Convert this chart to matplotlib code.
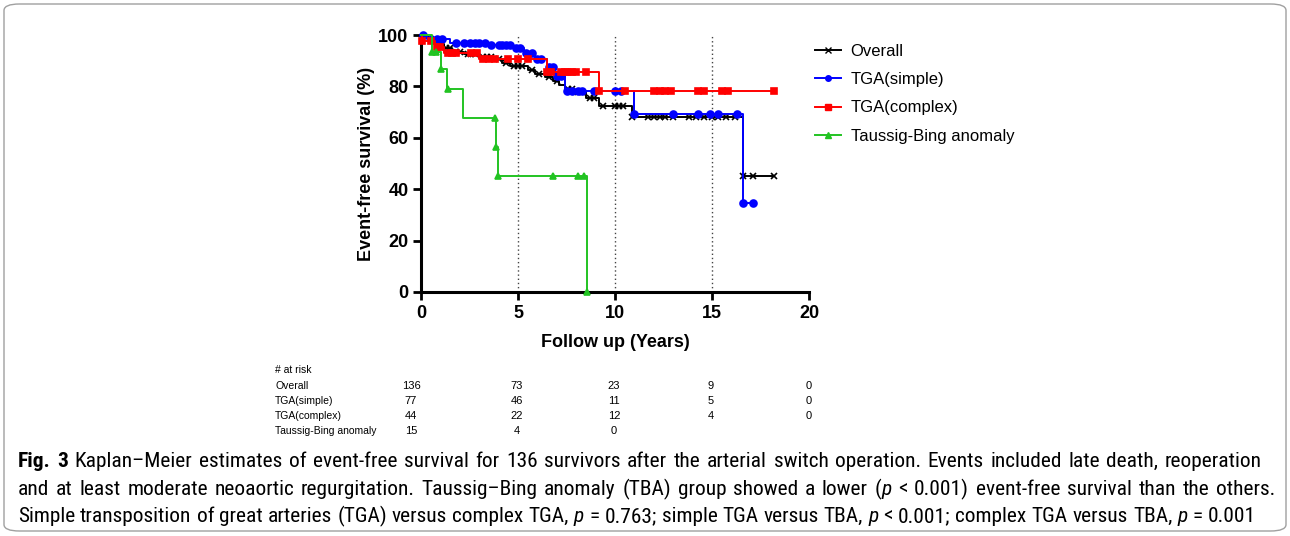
import numpy as np
import matplotlib
matplotlib.use("Agg")
import matplotlib.pyplot as plt
from matplotlib.lines import Line2D
from matplotlib.patches import FancyBboxPatch
from matplotlib import font_manager
from matplotlib.font_manager import FontProperties
import os

# ---------------- data ----------------
series_names = ["Overall", "TGA(simple)", "TGA(complex)", "Taussig-Bing anomaly"]

overall_t = [0, 0.3, 0.6, 0.9, 1.2, 1.6, 2.2, 3.0, 3.8, 4.2, 4.6, 5.5, 5.9, 6.4, 6.8,
             7.1, 7.4, 7.9, 8.5, 9.2, 10.9, 16.6, 18.2]
overall_s = [100, 99.3, 98, 96.5, 95, 93.5, 92.5, 91.5, 90.5, 89, 88, 86.5, 85, 83.5, 82,
             80.5, 79, 78, 75.5, 72.3, 68.2, 45.3, 45.3]
overall_cens = [0.7, 1.0, 1.3, 1.5, 1.8, 2.0, 2.4, 2.6, 2.8, 3.2, 3.4, 3.6, 4.0, 4.4, 4.8,
                5.0, 5.2, 5.7, 6.1, 6.6, 7.0, 7.6, 7.8, 8.1, 8.3, 8.7, 8.9, 9.4, 10.0, 10.2,
                10.4, 10.9, 11.7, 12.0, 12.3, 12.6, 13.0, 13.8, 14.2, 14.6, 15.0, 15.3, 15.7,
                16.2, 16.6, 17.1, 18.2]

simple_t = [0, 0.3, 1.5, 3.6, 4.7, 5.3, 5.9, 6.5, 6.9, 7.4, 11.0, 16.6, 17.1]
simple_s = [100, 98.5, 97, 96, 95, 93, 90.5, 87.5, 84, 78.3, 69.3, 34.7, 34.7]
simple_cens = [0.1, 0.5, 0.8, 1.1, 1.8, 2.2, 2.5, 2.8, 3.0, 3.3, 3.6, 4.0, 4.2, 4.4, 4.6,
               4.9, 5.1, 5.4, 5.7, 6.0, 6.2, 6.6, 6.8, 7.0, 7.2, 7.5, 7.8, 8.1, 8.3, 8.9,
               10.0, 10.3, 11.0, 13.0, 14.3, 14.9, 15.3, 16.3, 16.6, 17.1]

complex_t = [0, 0.05, 0.7, 1.2, 3.0, 6.5, 9.2, 18.2]
complex_s = [100, 97.7, 95.4, 93.1, 90.6, 85.5, 78.2, 78.2]
complex_cens = [0.05, 0.5, 0.8, 1.0, 1.4, 1.6, 1.8, 2.6, 2.9, 3.2, 3.5, 3.8, 4.5, 5.0, 5.5,
                6.5, 6.7, 7.2, 7.4, 7.6, 7.8, 8.0, 8.5, 9.2, 10.5, 12.0, 12.3, 12.6, 12.9,
                14.3, 14.6, 15.5, 15.8, 18.2]

tba_t = [0, 0.55, 1.05, 1.35, 2.15, 3.85, 3.95, 8.55]
tba_s = [100, 93.3, 86.7, 79, 67.8, 56.4, 45.1, 0]
tba_cens = [0.55, 0.75, 1.05, 1.4, 3.8, 3.87, 3.97, 6.8, 8.1, 8.4, 8.55]

x_ticks = [0, 5, 10, 15, 20]
y_ticks = [0, 20, 40, 60, 80, 100]
ref_lines = [5, 10, 15]

risk_header = "# at risk"
risk_rows = ["Overall", "TGA(simple)", "TGA(complex)", "Taussig-Bing anomaly"]
risk_overall = ["136", "73", "23", "9", "0"]
risk_simple = ["77", "46", "11", "5", "0"]
risk_complex = ["44", "22", "12", "4", "0"]
risk_tba = ["15", "4", "0"]

caption_lines = [
    [("Fig. 3", "bold"), (" Kaplan–Meier estimates of event-free survival for 136 survivors after the arterial switch operation. Events included late death, reoperation", "normal")],
    [("and at least moderate neoaortic regurgitation. Taussig–Bing anomaly (TBA) group showed a lower (", "normal"), ("p", "italic"), (" < 0.001) event-free survival than the others.", "normal")],
    [("Simple transposition of great arteries (TGA) versus complex TGA, ", "normal"), ("p", "italic"), (" = 0.763; simple TGA versus TBA, ", "normal"), ("p", "italic"), (" < 0.001; complex TGA versus TBA, ", "normal"), ("p", "italic"), (" = 0.001", "normal")],
]
caption_right = [1262, 1275, 1256]

# ---------------- figure ----------------
W, H = 1290, 536
fig = plt.figure(figsize=(W / 100, H / 100), dpi=100)


def fx(px):
    return px / W


def fy(py):
    return 1 - py / H


avail = {f.name for f in font_manager.fontManager.ttflist}
main_font = "Liberation Sans" if "Liberation Sans" in avail else "DejaVu Sans"

# look for a condensed font for the caption
fnames = [f.fname for f in font_manager.fontManager.ttflist]


def find_file(patterns):
    for p in patterns:
        for fn in fnames:
            if os.path.basename(fn).lower() == p.lower():
                return fn
    return None


cap_sets = [
    ("LiberationSansNarrow-Regular.ttf", "LiberationSansNarrow-Bold.ttf", "LiberationSansNarrow-Italic.ttf"),
    ("RobotoCondensed-Regular.ttf", "RobotoCondensed-Bold.ttf", "RobotoCondensed-Italic.ttf"),
    ("OpenSans_Condensed-Regular.ttf", "OpenSans_Condensed-Bold.ttf", "OpenSans_Condensed-Italic.ttf"),
    ("DejaVuSansCondensed.ttf", "DejaVuSansCondensed-Bold.ttf", "DejaVuSansCondensed-Oblique.ttf"),
]
cap_props = None
for reg, bold, ital in cap_sets:
    r = find_file([reg])
    if r:
        b = find_file([bold]) or r
        i = find_file([ital]) or r
        cap_props = {"normal": r, "bold": b, "italic": i}
        break


def cap_fp(style, size):
    if cap_props is not None:
        return FontProperties(fname=cap_props[style], size=size)
    kw = dict(family=main_font, size=size)
    if style == "bold":
        kw["weight"] = "bold"
    if style == "italic":
        kw["style"] = "italic"
    return FontProperties(**kw)


# border
border = FancyBboxPatch((fx(4), fy(531)), fx(1282), (527) / H,
                        boxstyle="round,pad=0,rounding_size=0.012",
                        transform=fig.transFigure, fill=False, edgecolor="#a0a0a0", lw=1.0)
fig.patches.append(border)

ax = fig.add_axes([fx(421), fy(292), fx(809) - fx(421), fy(35) - fy(292)])
ax.set_xlim(0, 20)
ax.set_ylim(0, 100)

for x in ref_lines:
    ax.plot([x, x], [0, 100], color="#444444", lw=1.0, ls=(0, (1, 2)), zorder=1)


def surv_at(t, s, q):
    t = np.asarray(t)
    s = np.asarray(s)
    idx = np.searchsorted(t, np.asarray(q), side="right") - 1
    return s[idx]


colors = ["black", "#0000ff", "#ff0000", "#22c322"]
markers = ["x", "o", "s", "^"]
msizes = [4.5, 5, 5, 5]
data = [(overall_t, overall_s, overall_cens), (simple_t, simple_s, simple_cens),
        (complex_t, complex_s, complex_cens), (tba_t, tba_s, tba_cens)]
order = [3, 2, 1, 0]
for i in order:
    t, s, c = data[i]
    ax.step(t, s, where="post", color=colors[i], lw=1.4, clip_on=False, zorder=3 + i * 0.1)
    ax.plot(c, surv_at(t, s, c), ls="none", marker=markers[i], ms=msizes[i],
            color=colors[i], mew=1.2, clip_on=False, zorder=3 + i * 0.1)

for sp in ["top", "right"]:
    ax.spines[sp].set_visible(False)
for sp in ["left", "bottom"]:
    ax.spines[sp].set_linewidth(2.2)
ax.set_xticks(x_ticks)
ax.set_yticks(y_ticks)
ax.tick_params(axis="both", direction="out", length=6, width=2.0, labelsize=13, pad=3)
for lab in ax.get_xticklabels() + ax.get_yticklabels():
    lab.set_fontweight("bold")
    lab.set_fontfamily(main_font)
ax.set_xlabel("Follow up (Years)", fontsize=13, fontweight="bold", family=main_font, labelpad=9)
ax.set_ylabel("Event-free survival (%)", fontsize=13, fontweight="bold", family=main_font, labelpad=2)

handles = [Line2D([0], [0], color=colors[i], marker=markers[i], ms=4,
                  lw=1.4, mew=1.0) for i in range(4)]
leg = fig.legend(handles, series_names, loc="upper left", bbox_to_anchor=(fx(808), fy(37)),
                 frameon=False, prop={"family": main_font, "size": 12},
                 handlelength=1.6, handletextpad=0.55, labelspacing=0.8, borderaxespad=0)

# at-risk table
tfs = 7.5
fig.text(fx(275), fy(370), risk_header, fontsize=tfs, family=main_font, va="center", ha="left")
col_x = [411, 517, 614, 711, 809]
row_y = [386, 401, 416, 431]
for r, (name, vals) in enumerate(zip(risk_rows, [risk_overall, risk_simple, risk_complex, risk_tba])):
    fig.text(fx(275), fy(row_y[r]), name, fontsize=tfs, family=main_font, va="center", ha="left")
    for c, v in enumerate(vals):
        fig.text(fx(col_x[c]), fy(row_y[r]), v, fontsize=tfs + 0.5, family=main_font,
                 va="center", ha="center")

# caption
renderer = fig.canvas.get_renderer()


def text_w(s, size, style):
    t = fig.text(0, 0, s, fontproperties=cap_fp(style, size))
    w = t.get_window_extent(renderer).width
    t.remove()
    return w


def space_w(size):
    return text_w("a a", size, "normal") - text_w("aa", size, "normal")


def line_width(segs, size):
    sp = space_w(size)
    w = 0
    for s, style in segs:
        lead = len(s) - len(s.lstrip(" "))
        trail = len(s) - len(s.rstrip(" "))
        w += (lead + trail) * sp + text_w(s.strip(" "), size, style)
    return w


def count_spaces(segs):
    n = 0
    for s, _ in segs:
        n += s.count(" ")
    return n


def draw_line(segs, x0, y, size, gap_extra=0.0):
    sp = space_w(size) + gap_extra
    x = x0
    for s, style in segs:
        # split into words so extra word spacing can be applied
        words = s.split(" ")
        for k, wd in enumerate(words):
            if k > 0:
                x += sp
            if wd:
                fig.text(fx(x), fy(y), wd, fontproperties=cap_fp(style, size),
                         va="baseline", ha="left")
                x += text_w(wd, size, style)
    return x


base = 12.0
scales = [(caption_right[k] - 18) / line_width(caption_lines[k], base) for k in range(3)]
cap_size = base * min(scales)
cap_y = [467, 495, 522]
for k, (segs, y) in enumerate(zip(caption_lines, cap_y)):
    wline = line_width(segs, cap_size)
    extra = max(0.0, (caption_right[k] - 18 - wline) / max(1, count_spaces(segs)))
    draw_line(segs, 18, y, cap_size, gap_extra=extra)

fig.savefig("out.png", dpi=100)
